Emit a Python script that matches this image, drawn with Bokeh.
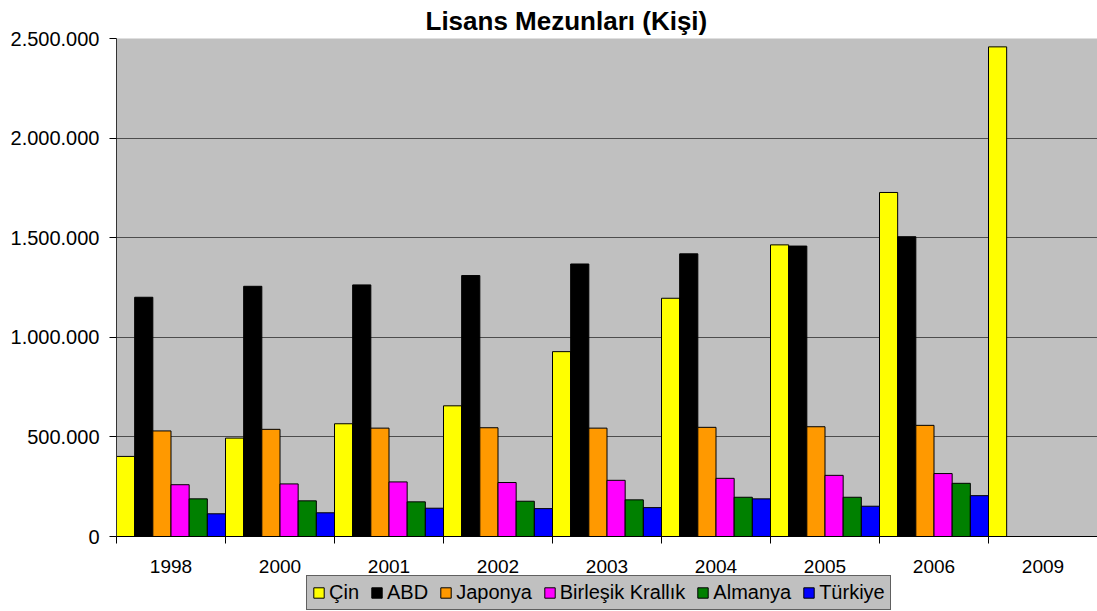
import numpy as np
from bokeh.plotting import figure
from bokeh.layouts import column
from bokeh.models import FixedTicker, CustomJSTickFormatter, Legend, LegendItem, Range1d
from bokeh.embed import file_html
from bokeh.resources import INLINE

years = ["1998", "2000", "2001", "2002", "2003", "2004", "2005", "2006", "2009"]
series_names = ["Çin", "ABD", "Japonya", "Birleşik Krallık", "Almanya", "Türkiye"]
nan = float("nan")
cin = [402000, 494000, 566000, 656000, 928000, 1196000, 1464000, 1727000, 2458000]
abd = [1201000, 1256000, 1263000, 1310000, 1368000, 1419000, 1458000, 1505000, nan]
japonya = [530000, 538000, 544000, 546000, 544000, 548000, 551000, 558000, nan]
birlesik = [260000, 264000, 274000, 271000, 282000, 292000, 307000, 316000, nan]
almanya = [189000, 179000, 174000, 177000, 184000, 197000, 197000, 267000, nan]
turkiye = [114000, 119000, 142000, 140000, 145000, 189000, 152000, 205000, nan]
colors = ["#FFFF00", "#000000", "#FF9900", "#FF00FF", "#008000", "#0000FF"]
y_ticks = [0, 500000, 1000000, 1500000, 2000000, 2500000]

data = [cin, abd, japonya, birlesik, almanya, turkiye]

FONT = "Liberation Sans"

p = figure(width=1097, height=575, output_backend="svg", toolbar_location=None,
           x_range=Range1d(0, len(years)), y_range=Range1d(0, 2500000),
           min_border_left=116, min_border_right=0, min_border_top=38, min_border_bottom=38)

p.title.text = "Lisans  Mezunları (Kişi)"
p.title.align = "left"
p.title.offset = 309
p.title.text_font = FONT
p.title.text_font_size = "26px"
p.title.text_font_style = "bold"
p.title.text_color = "#000000"
p.title.standoff = 5

p.background_fill_color = "#C0C0C0"
p.border_fill_color = "#FFFFFF"
p.outline_line_color = None

n = len(series_names)
bw = 1.0 / n
idx = np.arange(len(years))
for j, (name, vals, col) in enumerate(zip(series_names, data, colors)):
    xs = idx + (j + 0.5) * bw
    p.vbar(x=xs, top=np.array(vals, dtype=float), width=bw, bottom=0,
           fill_color=col, line_color="#000000", line_width=1)

centers = list(idx + 0.5)
bounds = list(range(len(years) + 1))
p.xaxis.ticker = FixedTicker(ticks=centers, minor_ticks=bounds)
p.xaxis.major_label_overrides = {c: y for c, y in zip(centers, years)}
p.xaxis.major_tick_out = 0
p.xaxis.major_tick_in = 0
p.xaxis.minor_tick_out = 7
p.xaxis.minor_tick_in = 0
p.xaxis.minor_tick_line_color = "#000000"
p.xaxis.axis_line_color = "#000000"
p.xaxis.major_label_text_font = FONT
p.xaxis.major_label_text_font_size = "19px"
p.xaxis.major_label_text_color = "#000000"
p.xaxis.major_label_standoff = 16
p.xgrid.grid_line_color = None

p.yaxis.ticker = FixedTicker(ticks=y_ticks, minor_ticks=[])
p.yaxis.formatter = CustomJSTickFormatter(code="""
return Math.round(tick).toFixed(0).replace(/\\B(?=(\\d{3})+(?!\\d))/g, '.');
""")
p.yaxis.major_tick_out = 7
p.yaxis.major_tick_in = 0
p.yaxis.minor_tick_line_color = None
p.yaxis.axis_line_color = "#333333"
p.yaxis.major_label_text_font = FONT
p.yaxis.major_label_text_font_size = "20px"
p.yaxis.major_label_text_color = "#000000"
p.yaxis.major_label_standoff = 10
p.ygrid.grid_line_color = "#4D4D4D"
p.ygrid.grid_line_width = 1

# legend strip below the chart (swatch renderers sit outside the visible range)
q = figure(width=1097, height=36, output_backend="svg", toolbar_location=None,
           x_range=Range1d(0, 1), y_range=Range1d(0, 1),
           x_axis_type=None, y_axis_type=None,
           min_border_left=0, min_border_right=0, min_border_top=0, min_border_bottom=0)
q.outline_line_color = None
q.background_fill_color = "#FFFFFF"
q.xgrid.grid_line_color = None
q.ygrid.grid_line_color = None
items = []
for name, col in zip(series_names, colors):
    r = q.vbar(x=[-10], top=[-10], bottom=-11, width=0.1,
               fill_color=col, line_color="#000000", line_width=1)
    items.append(LegendItem(label=name, renderers=[r]))

legend = Legend(items=items, orientation="horizontal", location=(190, 1),
                background_fill_color="#C0C0C0", background_fill_alpha=1.0,
                border_line_color="#000000", border_line_width=1,
                label_text_font=FONT, label_text_font_size="20px",
                label_text_color="#000000",
                glyph_width=13, glyph_height=13, label_standoff=4, spacing=11,
                padding=5, margin=0, label_height=20)
q.add_layout(legend, "center")

layout = column(p, q, spacing=0)
open("out.html", "w").write(file_html(layout, INLINE))
